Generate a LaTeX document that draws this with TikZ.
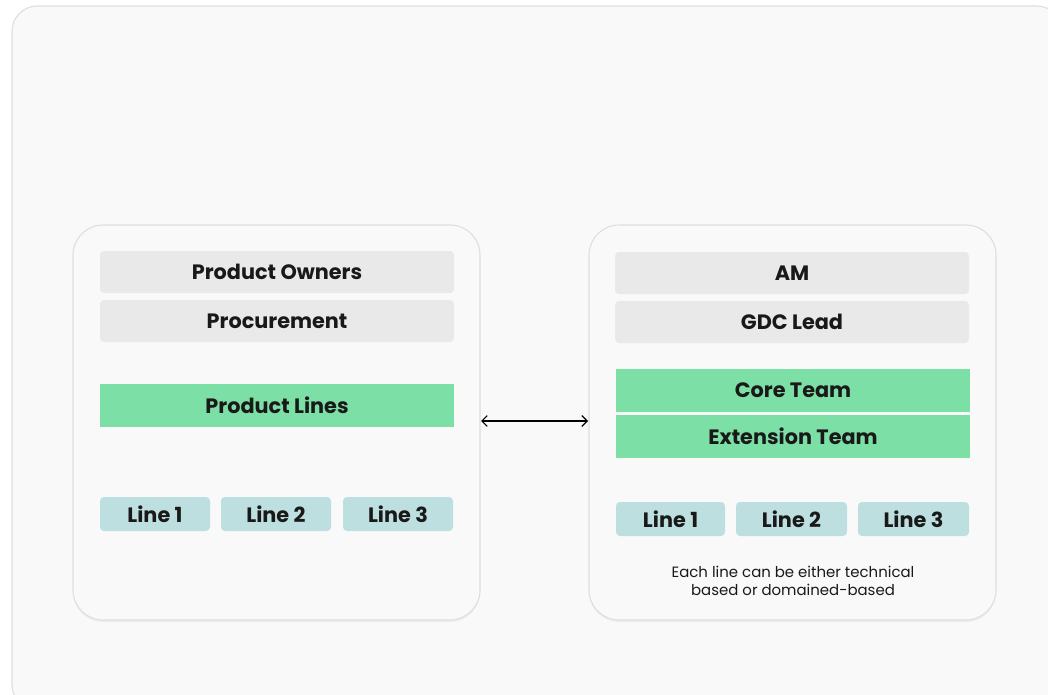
\documentclass[tikz,border=0pt]{standalone}
\usepackage{fontspec}
\setmainfont{Poppins}
\usetikzlibrary{shadows,arrows.meta}
\definecolor{bgfill}{HTML}{F9F9F9}
\definecolor{bgline}{HTML}{DEDEDE}
\definecolor{greybox}{HTML}{E9E9E9}
\definecolor{greenbox}{HTML}{7CDFA5}
\definecolor{tealbox}{HTML}{BDDFDF}
\begin{document}
\begin{tikzpicture}[x=0.75pt,y=-0.75pt,
  panel/.style={draw=bgline,fill=bgfill,line width=0.8pt,rounded corners=22.5pt,
    drop shadow={shadow xshift=0pt,shadow yshift=-1.5pt,opacity=0.12,fill=black!40}},
  txt/.style={font=\fontsize{15.6}{17}\selectfont\bfseries,text=black!90},
  greyb/.style={txt,fill=greybox,rounded corners=3pt},
  greenb/.style={txt,fill=greenbox},
  lineb/.style={txt,fill=tealbox,rounded corners=3pt}]
\useasboundingbox (0,0) rectangle (1048,695);
\fill[white] (0,0) rectangle (1048,695);
\draw[draw=bgline,fill=bgfill,line width=0.8pt,rounded corners=19pt] (12,6) rectangle (1062,710);
% panels
\draw[panel] (73,225) rectangle (480,620);
\draw[panel] (589,225) rectangle (996,620);
% left panel
\node[greyb,minimum width=354*0.75pt,minimum height=42*0.75pt,inner sep=0pt] (po) at (277,272) {Product Owners};
\node[greyb,minimum width=354*0.75pt,minimum height=42*0.75pt,inner sep=0pt] (pr) at (277,321) {Procurement};
\node[greenb,minimum width=354*0.75pt,minimum height=43*0.75pt,inner sep=0pt] (pl) at (277,405.5) {Product Lines};
\node[lineb,minimum width=110*0.75pt,minimum height=34*0.75pt,inner sep=0pt] (l1) at (155,514) {Line 1};
\node[lineb,minimum width=110*0.75pt,minimum height=34*0.75pt,inner sep=0pt] (l2) at (276,514) {Line 2};
\node[lineb,minimum width=110*0.75pt,minimum height=34*0.75pt,inner sep=0pt] (l3) at (398,514) {Line 3};
% right panel
\node[greyb,minimum width=354*0.75pt,minimum height=42*0.75pt,inner sep=0pt] (am) at (792,273) {AM};
\node[greyb,minimum width=354*0.75pt,minimum height=42*0.75pt,inner sep=0pt] (gdc) at (792,322) {GDC Lead};
\node[greenb,minimum width=354*0.75pt,minimum height=43*0.75pt,inner sep=0pt] (core) at (793,390.5) {Core Team};
\node[greenb,minimum width=354*0.75pt,minimum height=43*0.75pt,inner sep=0pt] (ext) at (793,436.5) {Extension Team};
\node[lineb,minimum width=109*0.75pt,minimum height=34*0.75pt,inner sep=0pt] (r1) at (670.5,519) {Line 1};
\node[lineb,minimum width=111*0.75pt,minimum height=34*0.75pt,inner sep=0pt] (r2) at (791.5,519) {Line 2};
\node[lineb,minimum width=111*0.75pt,minimum height=34*0.75pt,inner sep=0pt] (r3) at (913.5,519) {Line 3};
\node[align=center,font=\fontsize{11.2}{13.5}\selectfont,text=black!90,inner sep=0pt] (note) at (793,581) {Each line can be either technical\\based or domained-based};
% arrow
\coordinate (al) at (481,421);
\coordinate (ar) at (588,421);
\draw[{Straight Barb[length=4pt,width=8pt]}-{Straight Barb[length=4pt,width=8pt]},line width=0.9pt] (al) -- (ar);
\end{tikzpicture}
\end{document}
